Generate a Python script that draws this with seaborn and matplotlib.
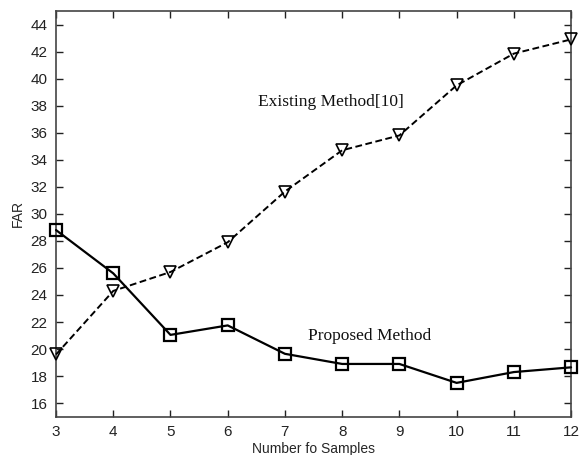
import matplotlib
matplotlib.use("Agg")
import matplotlib.pyplot as plt
import seaborn as sns
import pandas as pd

samples = [3, 4, 5, 6, 7, 8, 9, 10, 11, 12]
proposed = [28.8, 25.6, 21.05, 21.75, 19.65, 18.9, 18.9, 17.5, 18.3, 18.65]
existing = [19.6, 24.3, 25.7, 27.9, 31.65, 34.7, 35.8, 39.5, 41.85, 42.9]
yticks = list(range(16, 45, 2))
xticks = samples

sns.set_style("ticks")
plt.rcParams['font.family'] = ['Liberation Sans', 'DejaVu Sans']

fig = plt.figure(figsize=(5.8, 4.55), dpi=100)
ax = fig.add_axes([0.0966, 0.0842, 0.888, 0.8916])

df_p = pd.DataFrame({"samples": samples, "FAR": proposed})
df_e = pd.DataFrame({"samples": samples, "FAR": existing})

sns.lineplot(data=df_p, x="samples", y="FAR", ax=ax, color="black",
             linewidth=1.6, marker="s", markersize=8, markerfacecolor="none",
             markeredgecolor="black", markeredgewidth=1.6, zorder=3,
             clip_on=False)
sns.lineplot(data=df_e, x="samples", y="FAR", ax=ax, color="black",
             linewidth=1.4, linestyle=(0, (3.5, 1.8)), marker="v", markersize=8.5,
             markerfacecolor="none", markeredgecolor="black",
             markeredgewidth=1.2, zorder=3, clip_on=False)

ax.set_xlim(3, 12)
ax.set_ylim(15, 45)
ax.set_xticks(xticks)
ax.set_yticks(yticks)
ax.tick_params(direction="in", top=True, right=True, labeltop=False,
               labelright=False, length=5, width=1, labelsize=11,
               colors="#222222", pad=6)
for s in ax.spines.values():
    s.set_color("#444444")
    s.set_linewidth(1.2)

ax.set_xlabel("Number fo Samples", fontsize=10, labelpad=2)
ax.set_ylabel("FAR", fontsize=10, labelpad=4)

ax.text(6.53, 38.25, "Existing Method[10]", family="Liberation Serif",
        fontsize=12.5, va="center", ha="left", color="#111111")
ax.text(7.41, 21.0, "Proposed Method", family="Liberation Serif",
        fontsize=12.5, va="center", ha="left", color="#111111")

fig.savefig("out.png", dpi=100)
